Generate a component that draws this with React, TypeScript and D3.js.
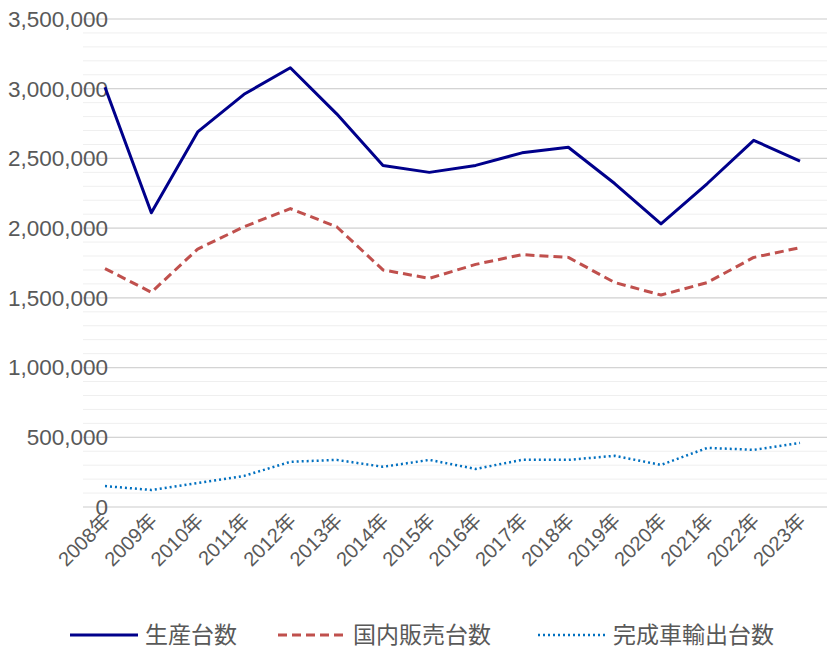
import * as React from "react";
import * as d3 from "d3";

const years = ["2008年","2009年","2010年","2011年","2012年","2013年","2014年","2015年","2016年","2017年","2018年","2019年","2020年","2021年","2022年","2023年"];
const production = [3010000,2110000,2690000,2960000,3150000,2820000,2450000,2400000,2450000,2540000,2580000,2320000,2030000,2320000,2630000,2480000];
const domestic = [1710000,1540000,1850000,2010000,2140000,2010000,1700000,1640000,1740000,1810000,1790000,1610000,1520000,1610000,1790000,1860000];
const exportCars = [150000,122000,172000,223000,324000,338000,288000,338000,273000,338000,338000,367000,302000,424000,410000,460000];

const series = [
  { name: "生産台数", values: production, color: "#00008B", dash: "", width: 3 },
  { name: "国内販売台数", values: domestic, color: "#C0504D", dash: "9,5", width: 3 },
  { name: "完成車輸出台数", values: exportCars, color: "#0070C0", dash: "2,3", width: 2.5 },
];

export default function App() {
  const W = 827, H = 648;
  const x = d3.scalePoint<string>().domain(years).range([105, 800]);
  const y = d3.scaleLinear().domain([0, 3500000]).range([507, 19]);
  const minor = d3.range(0, 3500001, 100000);
  const major = d3.range(0, 3500001, 500000);
  const fmt = d3.format(",");
  const line = (vals: number[]) =>
    d3.line<number>().x((_, i) => x(years[i])!).y(d => y(d))(vals)!;
  const font = "Arial, 'Liberation Sans', 'Noto Sans CJK JP', sans-serif";
  const legendX = [70, 278, 538];
  return (
    <svg width={W} height={H} style={{ position: "absolute", left: 0, top: 0, fontFamily: font }}>
      {minor.map(v => (
        <line key={"m" + v} x1={83} x2={827} y1={y(v)} y2={y(v)} stroke="#efefef" strokeWidth={1} />
      ))}
      {major.map(v => (
        <g key={"M" + v}>
          <line x1={83} x2={827} y1={y(v)} y2={y(v)} stroke="#d4d4d4" strokeWidth={1.2} />
          <text x={108} y={y(v)} dy="0.35em" textAnchor="end" fontSize={22.5} fill="#595959">{fmt(v)}</text>
        </g>
      ))}
      {years.map(yr => (
        <text key={yr} transform={`translate(${x(yr)! + 7},${522}) rotate(-45)`} textAnchor="end" fontSize={20} fill="#595959">{yr}</text>
      ))}
      {series.map(s => (
        <path key={s.name} d={line(s.values)} fill="none" stroke={s.color} strokeWidth={s.width} strokeDasharray={s.dash} strokeLinejoin="round" />
      ))}
      {series.map((s, i) => (
        <g key={"l" + s.name} transform={`translate(${legendX[i]},635)`}>
          <line x1={0} x2={68} y1={0} y2={0} stroke={s.color} strokeWidth={s.width} strokeDasharray={s.dash} />
          <text x={75} y={0} dy="0.35em" fontSize={23} fill="#595959">{s.name}</text>
        </g>
      ))}
    </svg>
  );
}
